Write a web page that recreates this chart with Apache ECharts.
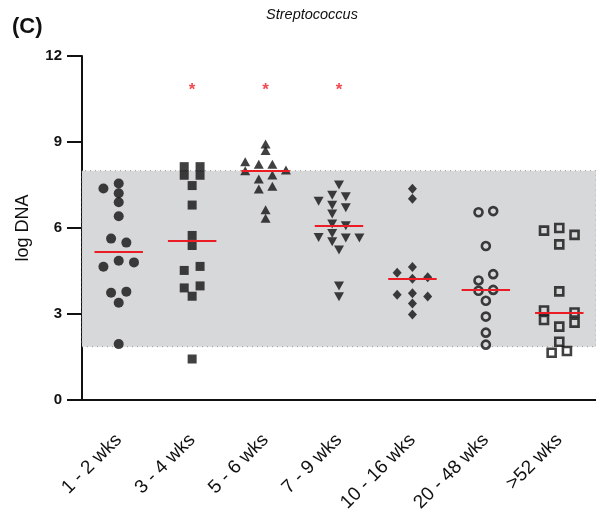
<!DOCTYPE html>
<html>
<head>
<meta charset="utf-8">
<script src="https://cdn.jsdelivr.net/npm/echarts@6/dist/echarts.min.js"></script>
<style>
  html, body { margin: 0; padding: 0; background: #fff; }
  #chart { width: 596px; height: 521px; }
</style>
</head>
<body>
<div id="chart"></div>
<script>
// categories (age groups)
var categories = ['1 - 2 wks', '3 - 4 wks', '5 - 6 wks', '7 - 9 wks', '10 - 16 wks', '20 - 48 wks', '>52 wks'];

// log DNA values per group, and horizontal jitter slot of each point
var wk1_2 = [7.55, 7.38, 7.21, 6.90, 6.41, 5.63, 5.49, 4.86, 4.80, 4.65, 3.78, 3.74, 3.39, 1.95];
var wk1_2Slot = [0, -2, 0, 0, 0, -1, 1, 0, 2, -2, 1, -1, 0, 0];

var wk3_4 = [8.14, 8.14, 7.84, 7.84, 7.48, 6.80, 5.74, 5.39, 4.66, 4.52, 3.98, 3.91, 3.62, 1.43];
var wk3_4Slot = [-1, 1, -1, 1, 0, 0, 0, 0, 1, -1, 1, -1, 0, 0];

var wk5_6 = [8.93, 8.70, 8.31, 8.22, 8.22, 8.02, 8.00, 7.85, 7.71, 7.46, 7.36, 6.64, 6.34];
var wk5_6Slot = [0, 0, -1.5, -0.5, 0.5, 1.5, -1.5, 0.5, -0.5, 0.5, -0.5, 0, 0];

var wk7_9 = [7.50, 7.14, 7.09, 6.93, 6.79, 6.71, 6.49, 6.14, 6.08, 5.81, 5.67, 5.65, 5.65, 5.52, 5.23, 3.98, 3.60];
var wk7_9Slot = [0, -0.5, 0.5, -1.5, -0.5, 0.5, -0.5, -0.5, 0.5, -0.5, -1.5, 0.5, 1.5, -0.5, 0, 0, 0];

var wk10_16 = [7.37, 7.02, 4.64, 4.44, 4.28, 4.23, 3.72, 3.67, 3.61, 3.37, 2.98];
var wk10_16Slot = [0, 0, 0, -2, 2, 0, 0, -2, 2, 0, 0];

var wk20_48 = [6.59, 6.55, 5.37, 4.39, 4.17, 3.84, 3.81, 3.46, 2.91, 2.35, 1.93];
var wk20_48Slot = [1, -1, 0, 1, -1, 1, -1, 0, 0, 0, 0];

var wk52 = [6.00, 5.91, 5.76, 5.43, 3.79, 3.12, 3.05, 2.79, 2.70, 2.56, 2.03, 1.71, 1.65];
var wk52Slot = [0, -2, 2, 0, 0, -2, 2, -2, 2, 0, 0, 1, -1];

// shaded reference range (log DNA)
var refRange = [1.86, 8.0];
// significance markers
var sigGroups = ['3 - 4 wks', '5 - 6 wks', '7 - 9 wks'];
var sigLevel = 10.95;

var yTicks = [0, 3, 6, 9, 12];

(function () {
  'use strict';

  var RED = '#ec1c24';
  var INK = '#111';
  var FONT = 'Liberation Sans, Arial, Helvetica, sans-serif';

  function median(arr) {
    var s = arr.slice().sort(function (a, b) { return a - b; });
    var n = s.length;
    return n % 2 ? s[(n - 1) / 2] : (s[n / 2 - 1] + s[n / 2]) / 2;
  }

  // 组: 值, 抖动槽, 符号样式
  var groups = [
    { vals: wk1_2, slots: wk1_2Slot, step: 0.104, symbol: 'circle', size: 10, fill: INK },
    { vals: wk3_4, slots: wk3_4Slot, step: 0.108, symbol: 'rect', size: 9, fill: INK },
    { vals: wk5_6, slots: wk5_6Slot, step: 0.185, symbol: 'triangle', size: [10, 9], fill: INK },
    { vals: wk7_9, slots: wk7_9Slot, step: 0.185, symbol: 'triangle', size: [10, 9], fill: INK, rotate: 180 },
    { vals: wk10_16, slots: wk10_16Slot, step: 0.104, symbol: 'diamond', size: [9, 10], fill: INK },
    { vals: wk20_48, slots: wk20_48Slot, step: 0.1, symbol: 'circle', size: 8, fill: 'rgba(0,0,0,0)', open: true },
    { vals: wk52, slots: wk52Slot, step: 0.104, symbol: 'rect', size: 8, fill: 'rgba(0,0,0,0)', open: true }
  ];

  var series = [];

  // 灰色参考区间
  series.push({
    type: 'scatter', xAxisIndex: 1, yAxisIndex: 0, data: [], z: 1, silent: true,
    markArea: {
      silent: true,
      itemStyle: { color: '#d7d8da', borderColor: '#9a9a9a', borderWidth: 1, borderType: [1, 4] },
      data: [[{ xAxis: 0, yAxis: refRange[0] }, { xAxis: 7, yAxis: refRange[1] }]]
    }
  });

  groups.forEach(function (g, i) {
    var cx = i + 0.5;
    var m = median(g.vals);
    series.push({
      name: categories[i],
      type: 'scatter',
      xAxisIndex: 1,
      yAxisIndex: 0,
      z: 3,
      symbol: g.symbol,
      symbolSize: g.size,
      symbolRotate: g.rotate || 0,
      itemStyle: g.open
        ? { color: g.fill, borderColor: INK, borderWidth: 2.6 }
        : { color: g.fill },
      data: g.vals.map(function (v, k) { return [cx + g.slots[k] * g.step, v]; }),
      markLine: {
        silent: true,
        symbol: ['none', 'none'],
        label: { show: false },
        lineStyle: { color: RED, width: 2, type: 'solid' },
        data: [[{ coord: [cx - 0.33, m] }, { coord: [cx + 0.33, m] }]]
      }
    });
  });

  // 显著性星号
  series.push({
    type: 'scatter', xAxisIndex: 1, yAxisIndex: 0, z: 4, silent: true,
    symbolSize: 1,
    itemStyle: { color: 'rgba(0,0,0,0)' },
    label: { show: true, position: 'inside', formatter: '*', color: RED, fontSize: 17, fontWeight: 'bold', fontFamily: FONT, offset: [0, 4] },
    data: sigGroups.map(function (c) { return [categories.indexOf(c) + 0.5, sigLevel]; })
  });

  var chart = echarts.init(document.getElementById('chart'), null, { renderer: 'canvas' });
  chart.setOption({
    animation: false,
    textStyle: { fontFamily: FONT },
    title: [
      { text: '(C)', left: 7, top: 11, textStyle: { fontSize: 22, fontWeight: 'bold', color: INK, fontFamily: FONT } },
      { text: 'Streptococcus', left: 307, top: 2, textAlign: 'center',
        textStyle: { fontSize: 14.5, fontStyle: 'italic', fontWeight: 'normal', color: INK, fontFamily: FONT } }
    ],
    grid: { left: 82, top: 56, width: 518, height: 344 },
    xAxis: [
      {
        type: 'category',
        data: categories,
        boundaryGap: true,
        axisLine: { lineStyle: { color: INK, width: 2 } },
        axisTick: { alignWithLabel: true, length: 15, lineStyle: { color: INK, width: 2 } },
        axisLabel: { rotate: 45, fontSize: 19, color: INK, margin: 37, interval: 0, fontFamily: FONT },
        splitLine: { show: false }
      },
      { type: 'value', min: 0, max: 7, show: false }
    ],
    yAxis: {
      type: 'value',
      min: yTicks[0],
      max: yTicks[yTicks.length - 1],
      interval: 3,
      name: 'log DNA',
      nameLocation: 'middle',
      nameGap: 50,
      nameRotate: 90,
      nameTextStyle: { fontSize: 18, color: INK, fontFamily: FONT },
      axisLine: { show: true, lineStyle: { color: INK, width: 2 } },
      axisTick: { show: true, length: 15, lineStyle: { color: INK, width: 2 } },
      axisLabel: { fontSize: 15, fontWeight: 'bold', color: INK, margin: 20, fontFamily: FONT },
      splitLine: { show: false }
    },
    series: series
  });
})();
</script>
</body>
</html>
